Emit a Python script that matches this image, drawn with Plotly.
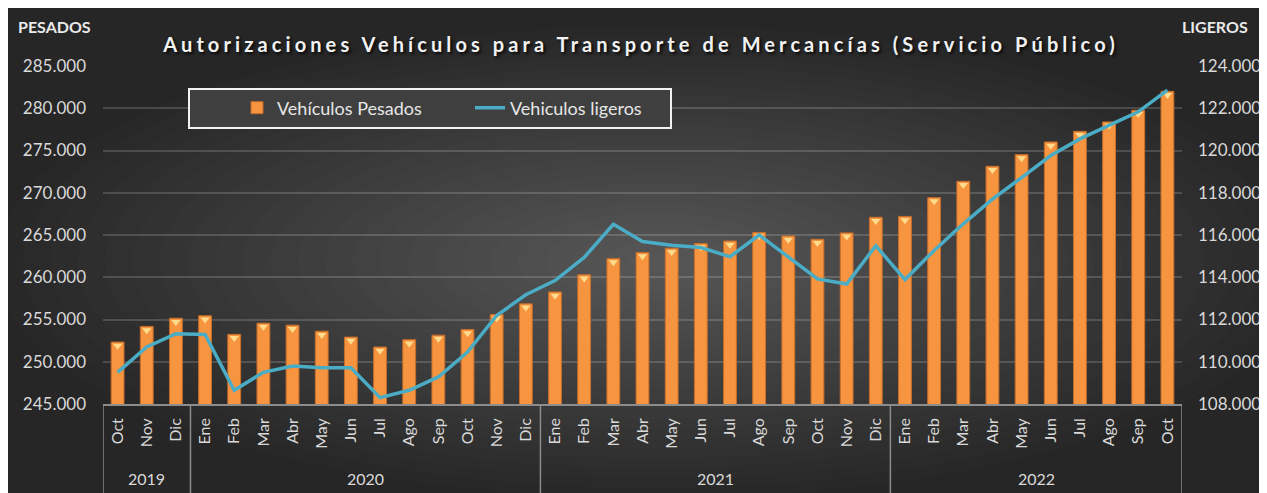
import plotly.graph_objects as go

# ---------------- data ----------------
years = ["2019"] * 3 + ["2020"] * 12 + ["2021"] * 12 + ["2022"] * 10
months = (["Oct", "Nov", "Dic"]
          + ["Ene", "Feb", "Mar", "Abr", "May", "Jun", "Jul", "Ago", "Sep", "Oct", "Nov", "Dic"]
          + ["Ene", "Feb", "Mar", "Abr", "May", "Jun", "Jul", "Ago", "Sep", "Oct", "Nov", "Dic"]
          + ["Ene", "Feb", "Mar", "Abr", "May", "Jun", "Jul", "Ago", "Sep", "Oct"])

pesados = [252330, 254180, 255150,
           255440, 253240, 254570, 254330, 253620, 252920, 251740, 252610, 253150, 253820, 255590, 256850,
           258260, 260290, 262210, 262920, 263440, 263980, 264290, 265300, 264880, 264490, 265250, 267100,
           267200, 269420, 271350, 273130, 274510, 276010, 277270, 278380, 279760, 282000]

ligeros = [109500, 110700, 111330,
           111290, 108650, 109500, 109800, 109720, 109720, 108300, 108650, 109280, 110460, 112190, 113170,
           113840, 114940, 116510, 115690, 115520, 115410, 114970, 116000, 114940, 113920, 113680, 115490,
           113890, 115270, 116530, 117700, 118720, 119760, 120550, 121190, 121830, 122860]

title_text = "Autorizaciones Vehículos para Transporte de Mercancías (Servicio Público)"
left_title = "PESADOS"
right_title = "LIGEROS"
name_bar = "Vehículos Pesados"
name_line = "Vehiculos ligeros"

# ---------------- geometry (page pixels; the page has an 8px body margin) ----------------
W, H = 1267, 493
OFF = 8
L, T = 103 - OFF, 66 - OFF
PW, PH = 1079, 338
R, B = W - L - PW, H - T - PH


def px(x):
    return (x - OFF - L) / PW


def py(y):
    return (H - B - (y - OFF)) / PH


idx = list(range(len(months)))

# year groups (label, start index, end index)
groups = []
for i, yv in enumerate(years):
    if not groups or groups[-1][0] != yv:
        groups.append([yv, i, i])
    else:
        groups[-1][2] = i

labels = [m + " " + y for m, y in zip(months, years)]

fig = go.Figure()

fig.add_trace(go.Bar(
    x=idx, y=pesados, name=name_bar,
    marker=dict(color="#F7943F", line=dict(color="#C66D2B", width=1)),
    customdata=labels, hovertemplate="%{customdata}: %{y}<extra></extra>",
))

bevel = [p - 0.011 * 40000 for p in pesados]
fig.add_trace(go.Scatter(
    x=idx, y=bevel, mode="markers", showlegend=False, hoverinfo="skip",
    marker=dict(symbol="triangle-down", size=8, color="#FFDB8C", line=dict(width=0)),
))

fig.add_trace(go.Scatter(
    x=idx, y=ligeros, name=name_line, yaxis="y2", mode="lines",
    line=dict(color="#4BACC6", width=3.5),
    customdata=labels, hovertemplate="%{customdata}: %{y}<extra></extra>",
))

# ---------------- background (radial-ish glow) ----------------
shapes = []
cx, cy = 655, 262
n = 24
for i in range(n):
    f = 1 - i / n
    rx, ry = 660 * f, 236 * f
    shapes.append(dict(type="circle", xref="paper", yref="paper", layer="below",
                       x0=px(cx - rx), x1=px(cx + rx), y0=py(cy + ry), y1=py(cy - ry),
                       fillcolor="rgba(255,255,255,0.0125)", line=dict(width=0)))

# axis frame: dividers between year groups
div_color = "#8C8C8C"
bounds = [g[1] - 0.5 for g in groups] + [groups[-1][2] + 0.5]
for b in bounds:
    shapes.append(dict(type="line", xref="x", yref="paper", layer="above",
                       x0=b, x1=b, y0=0, y1=py(H + 12),
                       line=dict(color=div_color, width=1.5)))

# legend frame
shapes.append(dict(type="rect", xref="paper", yref="paper", layer="above",
                   x0=px(189), x1=px(671), y0=py(128), y1=py(89),
                   fillcolor="#3F3F3F", line=dict(color="#F2F2F2", width=2)))

annotations = [
    dict(text="<b>" + left_title + "</b>", xref="paper", yref="paper",
         x=px(16), y=py(27), xanchor="left", yanchor="middle", showarrow=False,
         font=dict(family="Lato", size=16, color="#EAEAEA")),
    dict(text="<b>" + right_title + "</b>", xref="paper", yref="paper",
         x=px(1180), y=py(27), xanchor="left", yanchor="middle", showarrow=False,
         font=dict(family="Lato", size=16, color="#EAEAEA")),
]
for yv, s, e in groups:
    annotations.append(dict(text=yv, xref="x", yref="paper", x=(s + e) / 2, y=py(479),
                            xanchor="center", yanchor="middle", showarrow=False,
                            font=dict(family="Lato", size=16, color="#D9D9D9")))

fig.update_layout(
    width=W, height=H,
    margin=dict(l=L, r=R, t=T, b=B, pad=0),
    paper_bgcolor="#262626",
    plot_bgcolor="rgba(0,0,0,0)",
    separators=",.",
    font=dict(family="Lato", color="#D9D9D9"),
    shapes=shapes,
    annotations=annotations,
    bargap=0.56,
    title=dict(
        text='<span style="letter-spacing:4.1px">' + title_text + "</span>",
        x=px(641), xanchor="center", xref="paper",
        y=1 - 37 / H, yanchor="middle", yref="container",
        font=dict(family="Lato", size=20, weight="bold", color="#F2F2F2",
                  shadow="2px 2px 3px rgba(0,0,0,0.8)"),
    ),
    xaxis=dict(
        range=[-0.5, len(idx) - 0.5],
        tickmode="array", tickvals=idx, ticktext=months, tickangle=-90,
        showline=True, linecolor=div_color, linewidth=1.5,
        showgrid=False, zeroline=False, ticks="", ticklabelstandoff=6,
        tickfont=dict(family="Lato", size=16, color="#D9D9D9"),
    ),
    yaxis=dict(
        range=[245000, 285000], dtick=5000, tickformat=",d",
        showgrid=True, gridcolor="rgba(255,255,255,0.16)", gridwidth=1.5,
        zeroline=False, ticks="", ticklabelstandoff=16,
        tickfont=dict(family="Lato", size=17, color="#D9D9D9"),
    ),
    yaxis2=dict(
        overlaying="y", side="right",
        range=[108000, 124000], dtick=2000, tickformat=",d",
        showgrid=False, zeroline=False, ticks="", ticklabelstandoff=15,
        tickfont=dict(family="Lato", size=17, color="#D9D9D9"),
    ),
    legend=dict(
        orientation="h", x=px(237), y=py(108), xanchor="left", yanchor="middle",
        bgcolor="rgba(0,0,0,0)", borderwidth=0,
        font=dict(family="Lato", size=18, color="#E6E6E6"),
        entrywidth=188, traceorder="normal",
    ),
)

fig.write_html("out.html")
